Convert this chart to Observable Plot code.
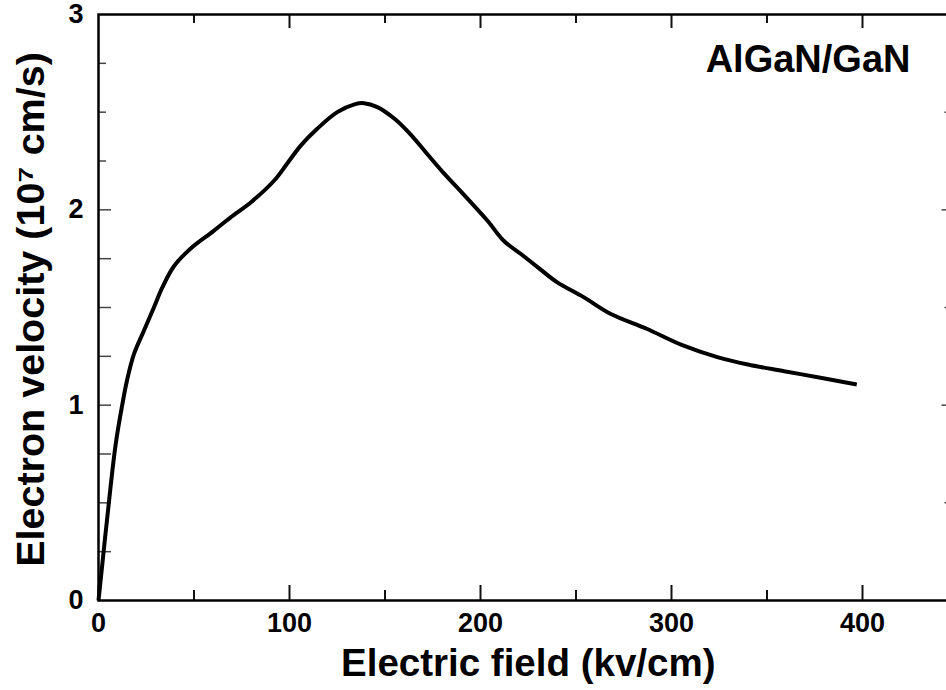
<!DOCTYPE html>
<html>
<head>
<meta charset="utf-8">
<script src="https://cdn.jsdelivr.net/npm/d3@7"></script>
<script src="https://cdn.jsdelivr.net/npm/@observablehq/plot@0.6"></script>
<style>
  html, body { margin: 0; padding: 0; background: #fff; overflow: hidden; }
  #chart svg { display: block; }
</style>
</head>
<body>
<div id="chart"></div>
<script>
// ---- data ----
const field = [0, 6.3, 9, 12.4, 15, 18.5, 23.7, 29, 33.3, 39.4, 48, 60, 69, 80, 92, 99, 106, 114.5, 125, 134, 139, 146, 155, 163, 172, 181, 191, 204, 212, 221, 231, 240, 254, 268, 287, 306, 324, 340, 359, 378, 397];
const velocity = [0, 0.58, 0.80, 1.0, 1.13, 1.26, 1.38, 1.50, 1.60, 1.71, 1.80, 1.89, 1.96, 2.04, 2.15, 2.24, 2.33, 2.415, 2.50, 2.54, 2.546, 2.526, 2.466, 2.39, 2.287, 2.185, 2.08, 1.94, 1.843, 1.775, 1.698, 1.63, 1.553, 1.468, 1.391, 1.306, 1.246, 1.208, 1.174, 1.14, 1.106];
const xMajorTicks = [0, 100, 200, 300, 400];
const xMinorTicks = [50, 150, 250, 350];
const yTickLabels = [0, 1, 2, 3];
const yIntTicks = [1, 2];
const yHalfTicks = [0.5, 1.5, 2.5];
const yQuarterTicks = [0.25, 0.75, 1.25, 1.75, 2.25, 2.75];
const xTitle = "Electric field (kv/cm)";
const yTitle = "Electron velocity (10\u2077 cm/s)";
const panelLabel = ["AlGaN/GaN"];

const points = field.map((f, i) => ({field: f, velocity: velocity[i]}));

// ---- layout ----
const W = 946, H = 690;
const mL = 98, mR = -11.5, mT = 14, mB = 90;
const frameW = W - mL - mR, frameH = H - mT - mB;
const font = "'Liberation Sans', Arial, Helvetica, sans-serif";

const leftLower = yQuarterTicks.concat(yHalfTicks, yIntTicks).filter(d => d <= 2);
const leftUpper = yQuarterTicks.concat(yHalfTicks).filter(d => d > 2);

const chart = Plot.plot({
  width: W,
  height: H,
  marginLeft: mL,
  marginRight: mR,
  marginTop: mT,
  marginBottom: mB,
  style: {fontFamily: font, background: "#fff", color: "#000", overflow: "hidden"},
  x: {domain: [0, 450], axis: null},
  y: {domain: [0, 3], axis: null},
  marks: [
    // bottom ticks (inward)
    Plot.ruleX(xMajorTicks, {x: d => d, insetTop: frameH - 15, stroke: "#111", strokeWidth: 2}),
    Plot.ruleX(xMinorTicks, {x: d => d, insetTop: frameH - 10, stroke: "#111", strokeWidth: 2}),
    // top ticks (inward)
    Plot.ruleX(xMajorTicks.filter(d => d > 0), {x: d => d, insetBottom: frameH - 14, stroke: "#111", strokeWidth: 2}),
    Plot.ruleX(xMinorTicks, {x: d => d, insetBottom: frameH - 9, stroke: "#111", strokeWidth: 2}),
    // left ticks (inward)
    Plot.ruleY(leftLower, {y: d => d, insetRight: frameW - 13, stroke: "#444", strokeWidth: 1.5}),
    Plot.ruleY(leftUpper, {y: d => d, insetRight: frameW - 8, stroke: "#444", strokeWidth: 1.5}),
    // right ticks (inward)
    Plot.ruleY(yIntTicks, {y: d => d, insetLeft: frameW - 16, stroke: "#444", strokeWidth: 1.5}),
    Plot.ruleY(yHalfTicks, {y: d => d, insetLeft: frameW - 13, stroke: "#444", strokeWidth: 1.5}),
    Plot.ruleY(yQuarterTicks, {y: d => d, insetLeft: frameW - 11, stroke: "#666", strokeWidth: 1}),
    // frame
    Plot.frame({stroke: "#000", strokeWidth: 2.5}),
    // curve
    Plot.line(points, {x: "field", y: "velocity", stroke: "#000", strokeWidth: 4, curve: "catmull-rom", strokeLinejoin: "round", strokeLinecap: "butt"}),
    // tick labels
    Plot.text(xMajorTicks, {x: d => d, frameAnchor: "bottom", dy: 12, lineAnchor: "top", text: d => String(d), fontSize: 27, fontWeight: "bold", fill: "#000"}),
    Plot.text(yTickLabels, {y: d => d, frameAnchor: "left", dx: -15, textAnchor: "end", lineAnchor: "middle", text: d => String(d), fontSize: 27, fontWeight: "bold", fill: "#000"}),
    // axis titles
    Plot.text([xTitle], {frameAnchor: "bottom", dy: 75, textAnchor: "middle", lineAnchor: "bottom", text: d => d, fontSize: 38.5, fontWeight: "bold", fill: "#000"}),
    Plot.text([yTitle], {frameAnchor: "left", dx: -55, dy: 2, rotate: -90, textAnchor: "middle", lineAnchor: "bottom", text: d => d, fontSize: 39.5, fontWeight: "bold", fill: "#000"}),
    // panel label
    Plot.text(panelLabel, {frameAnchor: "top-right", dx: -47.5, dy: 57, textAnchor: "end", lineAnchor: "bottom", text: d => d, fontSize: 38, fontWeight: "bold", fill: "#000"})
  ]
});

document.getElementById("chart").appendChild(chart);
</script>
</body>
</html>
